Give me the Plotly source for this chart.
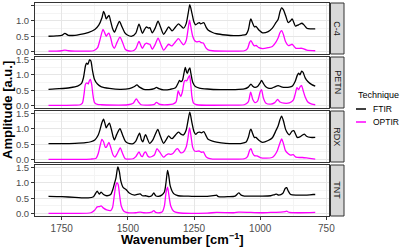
import plotly.graph_objects as go

panels = ["C-4", "PETN", "RDX", "TNT"]

# ---- C-4 ----
c4_ftir_w = [1800,1770,1750,1738,1725,1700,1680,1650,1625,1610,1598,1592,1586,1582,1576,1571,1565,1558,1551,1542,1532,1522,1512,1502,1485,1470,1458,1450,1445,1437,1430,1422,1417,1408,1396,1386,1376,1365,1355,1346,1338,1333,1320,1309,1298,1290,1280,1272,1266,1258,1250,1244,1236,1230,1225,1220,1213,1205,1197,1180,1165,1130,1100,1070,1053,1045,1038,1035,1030,1022,1016,1005,991,970,954,940,932,925,919,912,904,894,885,879,872,867,855,842,833,824,810,792]
c4_ftir_a = [0.50,0.51,0.53,0.59,0.53,0.53,0.56,0.62,0.72,0.86,1.10,1.30,1.18,1.06,1.13,1.17,0.98,0.75,0.63,0.80,0.98,0.80,0.62,0.54,0.50,0.60,0.89,0.70,0.59,0.72,0.80,0.76,0.78,0.61,0.78,0.99,0.78,0.56,0.68,0.80,0.72,0.67,0.80,0.90,0.82,0.76,0.90,1.25,1.52,1.25,0.95,0.87,0.92,0.94,0.90,0.92,0.94,0.80,0.70,0.62,0.58,0.54,0.52,0.53,0.56,0.70,1.00,1.06,0.95,0.80,0.82,0.70,0.61,0.65,0.76,0.95,1.05,1.30,1.42,1.35,1.17,0.94,1.00,1.06,0.92,0.83,0.87,0.92,0.85,0.76,0.74,0.74]
c4_optir_w = [1800,1770,1750,1738,1725,1700,1650,1630,1615,1605,1594,1588,1582,1577,1572,1565,1558,1551,1541,1530,1520,1510,1500,1480,1470,1458,1450,1445,1436,1430,1422,1417,1408,1396,1386,1376,1365,1355,1346,1338,1333,1320,1309,1298,1290,1280,1273,1267,1262,1255,1248,1240,1230,1222,1215,1205,1197,1180,1100,1060,1048,1040,1035,1028,1022,1015,1005,991,970,954,940,932,925,919,912,904,894,885,879,872,865,842,824,792]
c4_optir_a = [0.02,0.02,0.03,0.05,0.03,0.02,0.02,0.03,0.12,0.40,0.72,0.62,0.50,0.56,0.60,0.45,0.20,0.11,0.30,0.47,0.30,0.08,0.03,0.03,0.10,0.33,0.18,0.11,0.24,0.28,0.25,0.24,0.08,0.25,0.44,0.25,0.05,0.15,0.24,0.20,0.19,0.32,0.42,0.30,0.22,0.35,0.70,1.02,0.80,0.50,0.36,0.32,0.33,0.29,0.28,0.12,0.06,0.03,0.02,0.03,0.10,0.30,0.36,0.25,0.19,0.20,0.13,0.10,0.13,0.17,0.32,0.45,0.62,0.68,0.55,0.32,0.20,0.22,0.24,0.17,0.11,0.11,0.05,0.03]

# ---- PETN ----
petn_ftir_w = [1800,1760,1720,1690,1675,1668,1660,1656,1651,1645,1640,1634,1626,1615,1600,1570,1530,1495,1475,1466,1456,1440,1420,1400,1392,1383,1365,1340,1320,1309,1305,1300,1294,1288,1283,1278,1275,1271,1266,1262,1255,1245,1230,1200,1150,1100,1060,1045,1035,1028,1020,1010,1000,995,988,980,970,955,945,932,920,905,890,878,868,860,855,850,843,838,830,820,805,792]
petn_ftir_a = [0.53,0.55,0.58,0.63,0.72,0.90,1.30,1.38,1.34,1.48,1.45,1.15,0.85,0.70,0.61,0.56,0.53,0.55,0.62,0.67,0.60,0.53,0.52,0.55,0.59,0.55,0.51,0.53,0.58,0.75,0.82,0.78,0.82,1.05,1.24,1.08,1.05,1.15,1.22,1.05,0.76,0.62,0.57,0.54,0.52,0.52,0.54,0.60,0.70,0.63,0.59,0.62,0.74,0.82,0.72,0.62,0.57,0.57,0.61,0.65,0.61,0.59,0.60,0.64,0.78,0.98,1.05,1.00,1.12,1.08,0.90,0.78,0.68,0.63]
petn_optir_w = [1800,1700,1680,1672,1666,1660,1655,1650,1646,1642,1637,1632,1626,1615,1600,1500,1480,1468,1460,1450,1400,1392,1384,1370,1330,1318,1310,1305,1300,1294,1287,1283,1278,1272,1267,1262,1258,1252,1240,1100,1060,1045,1036,1028,1020,1010,1000,995,988,978,960,945,934,925,910,890,875,867,861,855,850,844,838,830,820,805,792]
petn_optir_a = [0.01,0.02,0.03,0.08,0.35,0.70,0.74,0.70,0.80,0.85,0.70,0.35,0.10,0.04,0.03,0.03,0.08,0.22,0.12,0.03,0.04,0.11,0.06,0.03,0.05,0.12,0.48,0.38,0.30,0.45,0.78,0.82,0.80,0.90,0.97,0.65,0.30,0.08,0.03,0.02,0.03,0.12,0.44,0.20,0.10,0.15,0.45,0.52,0.25,0.08,0.05,0.10,0.20,0.12,0.08,0.09,0.18,0.40,0.58,0.52,0.60,0.66,0.50,0.28,0.12,0.05,0.03]

# ---- RDX ----
rdx_ftir_w = [1800,1750,1700,1660,1640,1625,1612,1605,1598,1592,1586,1582,1576,1570,1563,1556,1551,1542,1530,1520,1510,1501,1480,1470,1456,1449,1443,1437,1433,1425,1418,1405,1395,1387,1378,1365,1355,1346,1338,1333,1320,1309,1298,1290,1280,1272,1266,1258,1250,1244,1236,1230,1222,1213,1205,1197,1180,1165,1130,1100,1070,1053,1045,1038,1035,1030,1022,1016,1005,991,970,954,940,932,925,919,912,904,896,890,880,873,865,860,850,840,833,825,810,792]
rdx_ftir_a = [0.52,0.52,0.53,0.55,0.58,0.64,0.80,0.98,1.20,1.31,1.15,1.03,1.12,1.18,1.00,0.75,0.64,0.82,1.00,0.80,0.60,0.54,0.52,0.60,0.86,0.65,0.58,0.75,0.81,0.65,0.53,0.65,0.85,0.98,0.78,0.53,0.65,0.77,0.70,0.68,0.80,0.89,0.82,0.80,0.95,1.30,1.54,1.20,0.90,0.82,0.88,0.89,0.87,0.91,0.78,0.66,0.60,0.57,0.53,0.52,0.53,0.57,0.72,0.95,0.99,0.88,0.72,0.72,0.63,0.56,0.62,0.71,0.95,1.10,1.30,1.41,1.25,0.98,0.85,0.80,0.92,0.94,0.80,0.72,0.74,0.80,0.83,0.76,0.72,0.72]
rdx_optir_w = [1800,1700,1640,1620,1612,1605,1598,1592,1585,1580,1572,1565,1556,1549,1540,1529,1520,1510,1480,1470,1458,1450,1445,1438,1433,1425,1418,1400,1390,1380,1365,1355,1346,1338,1330,1318,1312,1300,1290,1280,1273,1267,1262,1255,1248,1240,1230,1222,1215,1205,1197,1180,1100,1060,1048,1040,1035,1028,1022,1012,1000,980,955,945,935,925,919,912,905,895,885,875,865,840,820,792]
rdx_optir_a = [0.01,0.01,0.02,0.05,0.20,0.45,0.66,0.58,0.40,0.42,0.56,0.40,0.15,0.08,0.20,0.38,0.20,0.03,0.03,0.10,0.25,0.12,0.10,0.22,0.25,0.12,0.08,0.15,0.36,0.25,0.08,0.15,0.19,0.17,0.20,0.33,0.36,0.22,0.25,0.40,0.70,1.03,0.80,0.40,0.28,0.27,0.28,0.24,0.25,0.10,0.05,0.02,0.02,0.03,0.10,0.30,0.36,0.20,0.13,0.12,0.07,0.05,0.07,0.15,0.30,0.55,0.67,0.52,0.30,0.20,0.15,0.16,0.08,0.07,0.05,0.02]

# ---- TNT ----
tnt_ftir_w = [1800,1750,1700,1650,1630,1616,1608,1601,1592,1580,1565,1557,1550,1545,1538,1532,1527,1518,1507,1495,1475,1454,1445,1433,1420,1410,1402,1395,1385,1372,1362,1356,1350,1345,1340,1327,1310,1280,1250,1200,1170,1165,1158,1120,1095,1081,1072,1060,1000,960,945,938,930,915,905,900,895,885,860,830,800,792]
tnt_ftir_a = [0.56,0.55,0.53,0.51,0.55,0.73,0.63,0.70,0.62,0.58,0.62,0.78,1.00,1.16,1.51,1.35,1.07,0.85,0.78,0.67,0.60,0.64,0.58,0.58,0.55,0.58,0.67,0.58,0.56,0.60,0.70,1.00,1.40,1.20,0.90,0.65,0.58,0.57,0.56,0.56,0.59,0.60,0.55,0.55,0.57,0.67,0.60,0.57,0.57,0.58,0.62,0.63,0.60,0.65,0.82,0.84,0.75,0.62,0.60,0.60,0.62,0.62]
tnt_optir_w = [1800,1700,1640,1625,1616,1608,1601,1592,1580,1565,1558,1552,1546,1542,1537,1532,1525,1515,1500,1470,1454,1440,1410,1402,1395,1380,1370,1362,1356,1350,1345,1338,1327,1310,1200,1165,1100,1081,1000,960,940,905,900,890,850,792]
tnt_optir_a = [0.01,0.01,0.03,0.12,0.22,0.23,0.25,0.18,0.12,0.10,0.20,0.55,0.90,1.00,0.95,0.65,0.25,0.08,0.03,0.03,0.05,0.03,0.05,0.10,0.04,0.03,0.06,0.25,0.67,0.86,0.60,0.25,0.08,0.03,0.02,0.04,0.03,0.05,0.03,0.04,0.04,0.07,0.08,0.04,0.03,0.04]

series = {
    "C-4": (c4_ftir_w, c4_ftir_a, c4_optir_w, c4_optir_a),
    "PETN": (petn_ftir_w, petn_ftir_a, petn_optir_w, petn_optir_a),
    "RDX": (rdx_ftir_w, rdx_ftir_a, rdx_optir_w, rdx_optir_a),
    "TNT": (tnt_ftir_w, tnt_ftir_a, tnt_optir_w, tnt_optir_a),
}

x_ticks = [1750, 1500, 1250, 1000, 750]
y_ticks = [0.0, 0.5, 1.0, 1.5]
y_tick_text = ["0.0", "0.5", "1.0", "1.5"]

FONT = "Arial, Liberation Sans, sans-serif"
FTIR_COLOR = "black"
OPTIR_COLOR = "#ff00ff"

W, H = 400, 249
ML, MR, MT, MB = 35, 56, 3, 33
PW = W - ML - MR
PH = H - MT - MB
XDOM_END = (329 - ML) / PW

def py(px):
    return (H - MB - px) / PH

def pxx(px):
    return (px - ML) / PW

fig = go.Figure()
layout = {}
shapes = []
annotations = []

for i, name in enumerate(panels):
    fw, fa, ow, oa = series[name]
    n = i + 1
    xa = "x" if n == 1 else f"x{n}"
    ya = "y" if n == 1 else f"y{n}"
    fig.add_trace(go.Scatter(x=fw, y=fa, mode="lines", name="FTIR", xaxis=xa, yaxis=ya,
                             line=dict(color=FTIR_COLOR, width=1.3, shape="spline", smoothing=0.7),
                             showlegend=False))
    fig.add_trace(go.Scatter(x=ow, y=oa, mode="lines", name="OPTIR", xaxis=xa, yaxis=ya,
                             line=dict(color=OPTIR_COLOR, width=1.3, shape="spline", smoothing=0.7),
                             showlegend=False))
    top = 3 + i * 54
    bot = top + 51
    dom = [py(bot), py(top)]
    xkey = "xaxis" if n == 1 else f"xaxis{n}"
    ykey = "yaxis" if n == 1 else f"yaxis{n}"
    layout[xkey] = dict(
        domain=[0, XDOM_END], anchor=ya, range=[1851, 740], autorange=False, automargin=False,
        tickvals=x_ticks, showticklabels=(n == 4), ticks="outside" if n == 4 else "",
        ticklen=3, tickcolor="#333333", tickfont=dict(size=10, color="#4d4d4d", family=FONT),
        showgrid=True, gridcolor="#e6e6e6", gridwidth=1,
        minor=dict(tickvals=[1625, 1375, 1125, 875], showgrid=True, gridcolor="#f4f4f4", gridwidth=0.6),
        showline=True, mirror=True, linecolor="#333333", linewidth=1, zeroline=False,
        matches=None if n == 4 else "x4",
    )
    layout[ykey] = dict(
        domain=dom, anchor=xa, range=[-0.075, 1.575], autorange=False, automargin=False,
        tickvals=y_ticks, ticktext=y_tick_text, ticks="outside", ticklen=3,
        tickcolor="#333333", tickfont=dict(size=9.5, color="#4d4d4d", family=FONT),
        showgrid=True, gridcolor="#e6e6e6", gridwidth=1,
        minor=dict(tickvals=[0.25, 0.75, 1.25], showgrid=True, gridcolor="#f4f4f4", gridwidth=0.6),
        showline=True, mirror=True, linecolor="#333333", linewidth=1, zeroline=False,
    )
    # strip
    shapes.append(dict(type="rect", xref="paper", yref="paper",
                       x0=pxx(330.5), x1=pxx(344), y0=dom[0], y1=dom[1],
                       fillcolor="#d9d9d9", line=dict(color="#333333", width=1), layer="above"))
    annotations.append(dict(text=name, xref="paper", yref="paper", x=pxx(337.3), y=(dom[0] + dom[1]) / 2,
                            showarrow=False, textangle=90, xanchor="center", yanchor="middle",
                            font=dict(size=9, color="#1a1a1a", family=FONT)))

# axis titles
annotations.append(dict(text="<b>Wavenumber [cm<sup>−1</sup>]</b>", xref="paper", yref="paper",
                        x=pxx(182), y=py(239), showarrow=False, xanchor="center", yanchor="middle",
                        font=dict(size=13, color="black", family=FONT)))
annotations.append(dict(text="<b>Amplitude [a.u.]</b>", xref="paper", yref="paper",
                        x=pxx(8), y=py(110), showarrow=False, textangle=-90,
                        xanchor="center", yanchor="middle",
                        font=dict(size=13, color="black", family=FONT)))

# legend (manual)
annotations.append(dict(text="Technique", xref="paper", yref="paper", x=pxx(356), y=py(95),
                        showarrow=False, xanchor="left", yanchor="middle",
                        font=dict(size=9, color="black", family=FONT)))
for label, color, ypx in [("FTIR", FTIR_COLOR, 109), ("OPTIR", OPTIR_COLOR, 122)]:
    shapes.append(dict(type="line", xref="paper", yref="paper", x0=pxx(356), x1=pxx(366),
                       y0=py(ypx), y1=py(ypx), line=dict(color=color, width=1.5)))
    annotations.append(dict(text=label, xref="paper", yref="paper", x=pxx(371), y=py(ypx),
                            showarrow=False, xanchor="left", yanchor="middle",
                            font=dict(size=8.5, color="black", family=FONT)))

fig.update_layout(
    width=W, height=H,
    margin=dict(l=ML, r=MR, t=MT, b=MB, pad=0, autoexpand=False),
    paper_bgcolor="white", plot_bgcolor="white",
    showlegend=False,
    shapes=shapes, annotations=annotations,
    font=dict(family=FONT),
    **layout,
)

fig.write_html("out.html", config={"displayModeBar": False},
               post_script="document.body.style.margin='0px';")
